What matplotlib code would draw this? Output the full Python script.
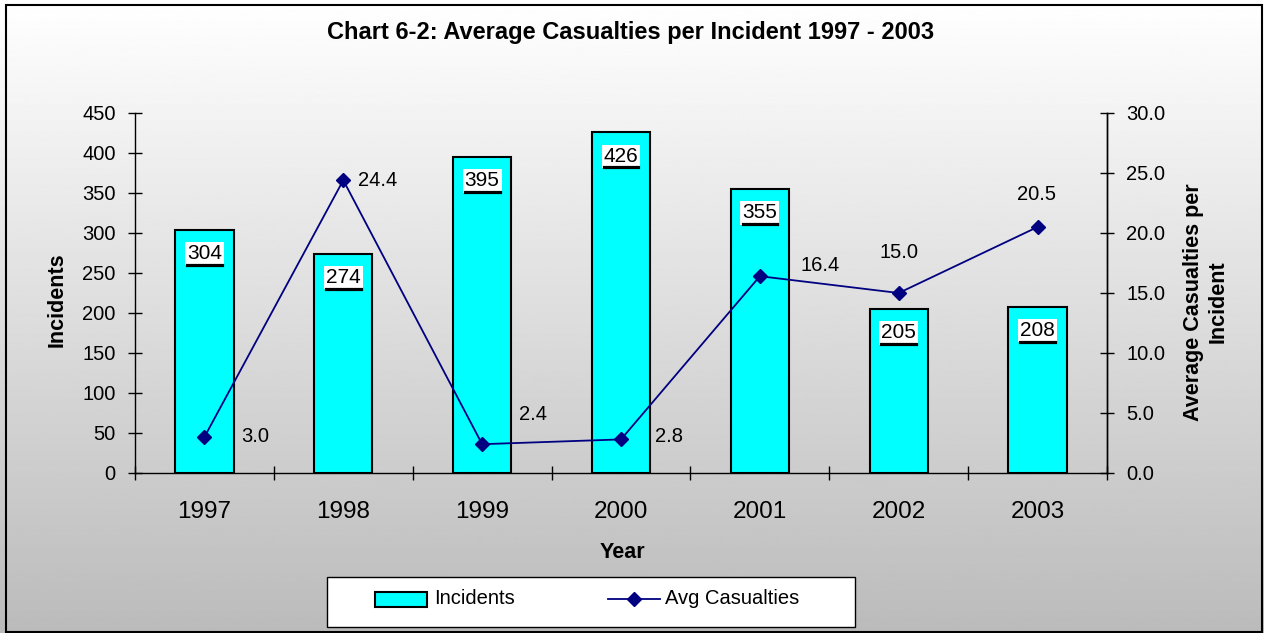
import matplotlib
matplotlib.use('Agg')
import matplotlib.pyplot as plt
import numpy as np
from matplotlib.transforms import ScaledTranslation
from matplotlib.patches import Rectangle
from matplotlib.lines import Line2D
from matplotlib.ticker import FormatStrFormatter

# ---- data ----
years = ['1997', '1998', '1999', '2000', '2001', '2002', '2003']
incidents = [304, 274, 395, 426, 355, 205, 208]
avg_casualties = [3.0, 24.4, 2.4, 2.8, 16.4, 15.0, 20.5]
left_ticks = list(range(0, 451, 50))
right_ticks = [0, 5, 10, 15, 20, 25, 30]
series_names = ['Incidents', 'Avg Casualties']

# label offsets (pixels) for average-casualty annotations
avg_offsets = [(51, 1), (34, 0), (51, 30), (48, 3), (60, 11), (0, 40), (-1, 33)]

BAR_COLOR = '#00FFFF'
LINE_COLOR = '#000080'

plt.rcParams['font.family'] = ['Liberation Sans', 'DejaVu Sans']

W, H = 1264, 633
fig = plt.figure(figsize=(W / 100, H / 100), dpi=100)


def fx(px):
    return px / W


def fy(py):
    return 1 - py / H


# gradient background
bg = fig.add_axes([0, 0, 1, 1], zorder=-10)
grad = np.linspace(1.0, 0.733, 256).reshape(-1, 1)
bg.imshow(grad, aspect='auto', cmap='gray', vmin=0, vmax=1, extent=[0, 1, 0, 1])
bg.axis('off')

# border
fig.add_artist(Rectangle((fx(6), fy(632)), fx(1262) - fx(6), fy(5) - fy(632),
                         transform=fig.transFigure, fill=False, edgecolor='black', lw=1.5))

ax = fig.add_axes([fx(135), fy(473), fx(1107) - fx(135), fy(113) - fy(473)])
ax.patch.set_alpha(0)
x = np.arange(len(years))
ax.bar(x, incidents, width=0.42, color=BAR_COLOR, edgecolor='black', linewidth=1.5, zorder=2)
ax.set_xlim(-0.5, len(years) - 0.5)
ax.set_ylim(0, 450)
ax.set_yticks(left_ticks)
ax.set_xticks(x)
ax.set_xticklabels(years, fontsize=17.5)
ax.set_xticks(np.arange(-0.5, len(years), 1), minor=True)
ax.tick_params(axis='x', which='major', length=0, pad=20)
ax.tick_params(axis='x', which='minor', direction='inout', length=10, width=1)
ax.tick_params(axis='y', direction='inout', length=10, width=1, labelsize=14.5, pad=9)
ax.spines['top'].set_visible(False)
ax.spines['right'].set_visible(True)
for s in ax.spines.values():
    s.set_linewidth(1)

# bar labels with white box and underline
for i, v in enumerate(incidents):
    ax.annotate(str(v), (i, v), xytext=(0, -24), textcoords='offset pixels',
                ha='center', va='center', fontsize=15, zorder=5,
                bbox=dict(facecolor='white', edgecolor='none', boxstyle='square,pad=0.1'))
    tr = ax.transData + ScaledTranslation(0, -35 / 100, fig.dpi_scale_trans)
    ax.add_line(Line2D([i - 0.125, i + 0.125], [v, v], transform=tr, color='black', lw=2.3, zorder=6))

ax2 = ax.twinx()
ax2.patch.set_visible(False)
ax2.set_ylim(0, 30)
ax2.set_yticks(right_ticks)
ax2.yaxis.set_major_formatter(FormatStrFormatter('%.1f'))
ax2.tick_params(axis='y', direction='inout', length=10, width=1, labelsize=14.5, pad=9)
for s in ['top', 'left', 'bottom']:
    ax2.spines[s].set_visible(False)
ax2.spines['right'].set_linewidth(1)
ax2.plot(x, avg_casualties, color=LINE_COLOR, marker='D', markersize=7.5, linewidth=1.3, zorder=4)
for i, v in enumerate(avg_casualties):
    dx, dy = avg_offsets[i]
    ax2.annotate(f'{v:.1f}', (i, v), xytext=(dx, dy), textcoords='offset pixels',
                 ha='center', va='center', fontsize=14.5)

# titles and labels
fig.text(fx(631), fy(33), 'Chart 6-2: Average Casualties per Incident 1997 - 2003',
         ha='center', va='center', fontsize=17, weight='bold')
fig.text(fx(57), fy(300), 'Incidents', rotation=90, ha='center', va='center',
         fontsize=15.5, weight='bold')
fig.text(fx(1206), fy(302), 'Average Casualties per\nIncident', rotation=90,
         ha='center', va='center', multialignment='center', fontsize=15.5, weight='bold',
         linespacing=1.25)
fig.text(fx(622), fy(553), 'Year', ha='center', va='center', fontsize=15.5, weight='bold')

# legend box (drawn manually to match the original layout)
fig.add_artist(Rectangle((fx(327), fy(627)), fx(855) - fx(327), fy(577) - fy(627),
                         transform=fig.transFigure, facecolor='white', edgecolor='black', lw=1,
                         zorder=10))
fig.add_artist(Rectangle((fx(375), fy(607)), fx(427) - fx(375), fy(592) - fy(607),
                         transform=fig.transFigure, facecolor=BAR_COLOR, edgecolor='black',
                         lw=1.5, zorder=11))
fig.text(fx(434), fy(599), series_names[0], ha='left', va='center', fontsize=14.5, zorder=11)
fig.add_artist(Line2D([fx(608), fx(660)], [fy(599), fy(599)], transform=fig.transFigure,
                      color=LINE_COLOR, lw=1.3, zorder=11))
fig.add_artist(Line2D([fx(634)], [fy(599)], transform=fig.transFigure, color=LINE_COLOR,
                      marker='D', markersize=7.5, lw=0, zorder=12))
fig.text(fx(665), fy(599), series_names[1], ha='left', va='center', fontsize=14.5, zorder=11)

fig.savefig('out.png', dpi=100)
